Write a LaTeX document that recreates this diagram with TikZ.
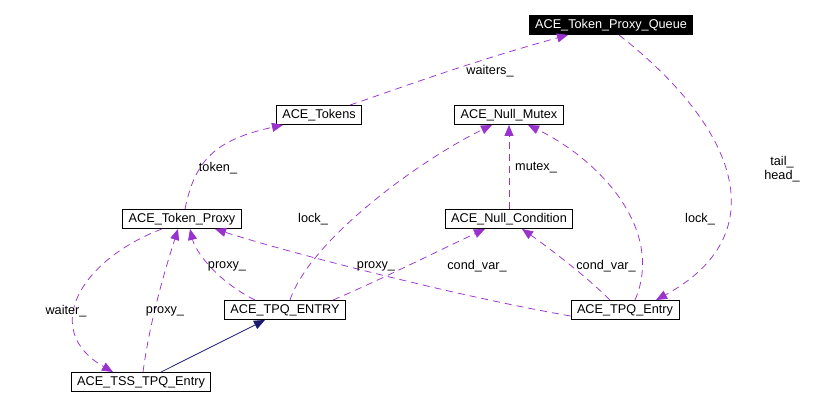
\documentclass[tikz,border=0pt]{standalone}
\usepackage{fontspec}
\setmainfont{Liberation Sans}
\usetikzlibrary{arrows.meta}
\definecolor{edgepurple}{RGB}{154,50,205}
\definecolor{inhnavy}{RGB}{25,25,112}
\begin{document}
\begin{tikzpicture}[x=1pt,y=-1pt,
  cls/.style={draw=black,line width=0.9pt,fill=white,inner xsep=6pt,inner ysep=0pt,minimum height=19pt,font=\fontsize{12.7}{14}\selectfont},
  root/.style={cls,fill=black,text=white},
  lbl/.style={font=\fontsize{12.7}{14}\selectfont,inner sep=0pt},
  uses/.style={draw=edgepurple,line width=0.75pt,dash pattern=on 7pt off 5pt,-{Triangle[length=11pt,width=9pt,fill=edgepurple]}},
  inh/.style={draw=inhnavy,line width=0.75pt,-{Triangle[length=11pt,width=9pt,fill=inhnavy]}}]
\useasboundingbox (0,0) rectangle (821,406);

\node[root] (tpq) at (611,25) {ACE\_Token\_Proxy\_Queue};
\node[cls] (tok) at (319,115) {ACE\_Tokens};
\node[cls] (nm) at (509,115) {ACE\_Null\_Mutex};
\node[cls] (tp) at (182,219) {ACE\_Token\_Proxy};
\node[cls] (nc) at (509,219) {ACE\_Null\_Condition};
\node[cls] (tE) at (285,310) {ACE\_TPQ\_ENTRY};
\node[cls] (te) at (625,310) {ACE\_TPQ\_Entry};
\node[cls] (tss) at (141,382) {ACE\_TSS\_TPQ\_Entry};

% waiters_
\draw[uses] ([xshift=31pt]tok.north) .. controls (400,88) and (470,62) .. ([xshift=-43pt]tpq.south);
\node[lbl] (lw) at (490,71) {waiters\_};
% token_
\draw[uses] ([xshift=3pt]tp.north) .. controls (195,160) and (215,140) .. ([xshift=-36pt]tok.south);
\node[lbl] (lt) at (218,168) {token\_};
% lock_ (TPQ_ENTRY -> Null_Mutex)
\draw[uses] ([xshift=5pt]tE.north) .. controls (310,240) and (420,160) .. ([xshift=-17pt]nm.south);
\node[lbl] (ll1) at (313,219) {lock\_};
% mutex_
\draw[uses] (nc.north) -- (nm.south);
\node[lbl] (lm) at (536,168) {mutex\_};
% lock_ (TPQ_Entry -> Null_Mutex)
\draw[uses] ([xshift=10pt]te.north) .. controls (665,230) and (600,160) .. ([xshift=19pt]nm.south);
\node[lbl] (ll2) at (700,219) {lock\_};
% tail_ head_
\draw[uses] ([xshift=8pt]tpq.south) .. controls (740,130) and (775,235) .. ([xshift=31pt]te.north);
\node[lbl,align=center] (lth) at (782,169) {tail\_\\head\_};
% cond_var_ (TPQ_ENTRY)
\draw[uses] ([xshift=48pt]tE.north) .. controls (380,280) and (440,250) .. ([xshift=-24pt]nc.south);
\node[lbl] (lc1) at (477,266) {cond\_var\_};
% cond_var_ (TPQ_Entry)
\draw[uses] ([xshift=-15pt]te.north) .. controls (585,275) and (545,245) .. ([xshift=13pt]nc.south);
\node[lbl] (lc2) at (606,266) {cond\_var\_};
% proxy_ (TPQ_Entry -> Token_Proxy)
\draw[uses] ([yshift=-6pt]te.west) .. controls (450,295) and (280,250) .. ([xshift=33pt]tp.south);
\node[lbl] (lp1) at (376,266) {proxy\_};
% proxy_ (TPQ_ENTRY -> Token_Proxy)
\draw[uses] ([xshift=-30pt]tE.north) .. controls (215,280) and (195,250) .. ([xshift=8pt]tp.south);
\node[lbl] (lp2) at (227,266) {proxy\_};
% proxy_ (TSS -> Token_Proxy)
\draw[uses] ([xshift=2pt]tss.north) .. controls (150,320) and (165,270) .. ([xshift=-4pt]tp.south);
\node[lbl] (lp3) at (165,311) {proxy\_};
% waiter_
\draw[uses] ([xshift=-20pt]tp.south) .. controls (80,260) and (40,330) .. ([xshift=-28pt]tss.north);
\node[lbl] (lwt) at (66,311) {waiter\_};
% inheritance
\draw[inh] ([xshift=20pt]tss.north) -- ([xshift=-20pt]tE.south);
\end{tikzpicture}
\end{document}
